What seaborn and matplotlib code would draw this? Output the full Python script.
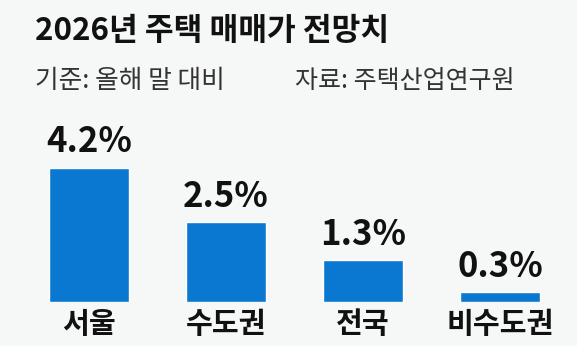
import matplotlib
matplotlib.use("Agg")
import matplotlib.pyplot as plt
import seaborn as sns
import pandas as pd

categories = ["서울", "수도권", "전국", "비수도권"]
values = [4.2, 2.5, 1.3, 0.3]
value_labels = ["4.2%", "2.5%", "1.3%", "0.3%"]
title = "2026년 주택 매매가 전망치"
note_left = "기준: 올해 말 대비"
note_right = "자료: 주택산업연구원"

sns.set_theme(style="white")
plt.rcParams['font.family'] = ['Noto Sans CJK KR', 'DejaVu Sans']

BG = "#f6f7f7"
BAR = "#0a78d0"

df = pd.DataFrame({"region": categories, "value": values})

fig = plt.figure(figsize=(5.77, 3.46), dpi=100, facecolor=BG)
ax = fig.add_axes([0.0355, 0.127, 0.9497, 0.555])
ax.set_facecolor(BG)

sns.barplot(data=df, x="region", y="value", color=BAR, width=0.584,
            saturation=1, ax=ax)

ax.set_xlim(-0.5, 3.5)
ax.set_ylim(0, 6.0)
for s in ax.spines.values():
    s.set_visible(False)
ax.set_yticks([])
ax.set_xlabel("")
ax.set_ylabel("")
ax.tick_params(axis="x", length=0, pad=5)
ax.set_xticks(range(len(categories)))
ax.set_xticklabels(categories, fontsize=21, fontweight="bold", color="#111111")

for i, (v, lab) in enumerate(zip(values, value_labels)):
    ax.annotate(lab, (i, v), xytext=(0, 11), textcoords="offset points",
                ha="center", va="baseline", fontsize=25, fontweight="bold",
                color="#111111")

fig.text(35/577, 1 - 15/346, title, ha="left", va="top", fontsize=22.5,
         fontweight="bold", color="#111111")
fig.text(35/577, 1 - 68/346, note_left, ha="left", va="top", fontsize=18.5,
         color="#333333")
fig.text(295/577, 1 - 68/346, note_right, ha="left", va="top", fontsize=18,
         color="#333333")

fig.savefig("out.png", dpi=100, facecolor=BG)
